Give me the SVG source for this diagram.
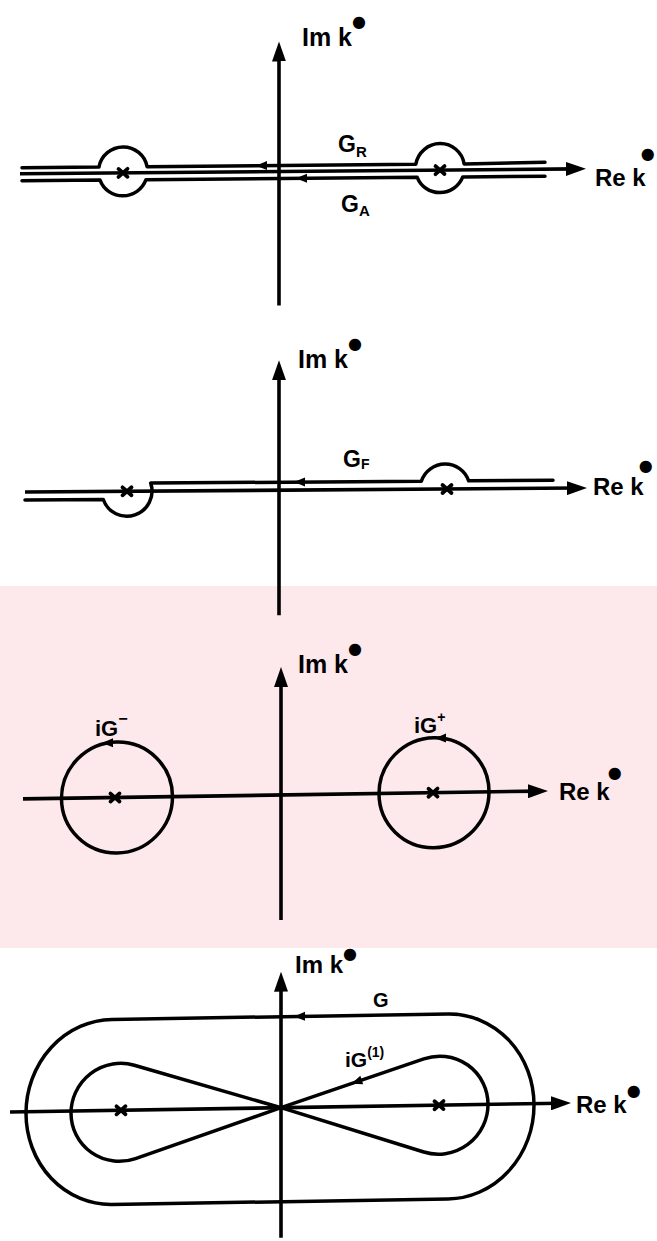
<svg xmlns="http://www.w3.org/2000/svg" width="657" height="1241" viewBox="0 0 657 1241">
<style>
.ln{fill:none;stroke:#000;stroke-width:3.5;stroke-linecap:round;stroke-linejoin:round}
.ax{fill:none;stroke:#000;stroke-width:3.6}
.pm{fill:none;stroke:#000;stroke-width:3.8;stroke-linecap:round}
.lbl{font-family:"Liberation Sans",Arial,sans-serif;font-weight:bold;fill:#000}
.dot{font-family:"DejaVu Sans",sans-serif;font-weight:normal}
.wm{fill:#fde8ec}
</style>
<defs>
<marker id="ah" viewBox="0 0 20 14" refX="10" refY="7" markerUnits="userSpaceOnUse" markerWidth="20" markerHeight="14" orient="auto">
<path d="M0,0 L20,7 L0,14 z" fill="#000"/>
</marker>
<path id="sa" d="M-6,0 L5,-4.5 L5,4.5 z" fill="#000"/>
<path id="px" d="M-4.5,-4 L4.5,4 M-4.5,4 L4.5,-4"/>
</defs>
<rect width="657" height="1241" fill="#fff"/>
<g id="watermark">
<rect class="wm" x="0" y="586" width="657" height="362"/>
</g>

<g id="panel1">
<g transform="translate(279,171.5) skewY(-0.5)">
<g id="p1-axes">
<path class="ax" d="M-259,0 L297,0" marker-end="url(#ah)"/>
<path class="ax" d="M0,134 L0,-120" marker-end="url(#ah)"/>
</g>
<g id="p1-contours">
<path class="ln" d="M-257,-6 L-180.08,-6 A24.5,24.5 0 0 1 -131.92,-6 L136.83,-6 A24.5,24.5 0 0 1 185.17,-6 L266,-7"/>
<path class="ln" d="M-257,7 L-178.98,7 A24.5,24.5 0 0 0 -133.02,7 L138.21,7 A24.5,24.5 0 0 0 183.79,7 L266,7"/>
<use href="#sa" transform="translate(-17,-6)"/>
<use href="#sa" transform="translate(23,7)"/>
</g>
<g id="p1-poles" class="pm">
<use href="#px" transform="translate(-156,0)"/>
<use href="#px" transform="translate(161,0)"/>
</g>
</g>
<text class="lbl" x="302" y="46" font-size="25">Im k<tspan class="dot" dx="0" dy="-19" font-size="16">●</tspan></text>
<text class="lbl" x="595" y="186" font-size="24">Re k<tspan class="dot" dx="-5" dy="-27" font-size="16">●</tspan></text>
<text class="lbl" x="338" y="152" font-size="23">G<tspan font-size="15" dy="5">R</tspan></text>
<text class="lbl" x="341" y="212" font-size="23">G<tspan font-size="15" dy="4">A</tspan></text>
</g>

<g id="panel2">
<g transform="translate(279,490.2) skewY(-0.41)">
<g id="p2-axes">
<path class="ax" d="M-254,0 L298,0" marker-end="url(#ah)"/>
<path class="ax" d="M0,125 L0,-120" marker-end="url(#ah)"/>
</g>
<g id="p2-contour">
<path class="ln" d="M-254,8 L-175.69,8 A25,25 0 1 0 -128.31,-8 L142.31,-8 A25,25 0 0 1 189.69,-8 L274,-8"/>
<use href="#sa" transform="translate(21,-8)"/>
</g>
<g id="p2-poles" class="pm">
<use href="#px" transform="translate(-152,0)"/>
<use href="#px" transform="translate(168,0)"/>
</g>
</g>
<text class="lbl" x="298" y="368" font-size="25">Im k<tspan class="dot" dx="0" dy="-19" font-size="16">●</tspan></text>
<text class="lbl" x="593" y="495" font-size="24">Re k<tspan class="dot" dx="-5" dy="-24" font-size="16">●</tspan></text>
<text class="lbl" x="343" y="467" font-size="23">G<tspan font-size="14" dy="2">F</tspan></text>
</g>

<g id="panel3">
<g transform="translate(281,795) skewY(-0.87)">
<g id="p3-axes">
<path class="ax" d="M-258,0 L257,0" marker-end="url(#ah)"/>
<path class="ax" d="M0,125 L0,-118" marker-end="url(#ah)"/>
</g>
<g id="p3-contours">
<circle class="ln" cx="-164" cy="0" r="55.5"/>
<circle class="ln" cx="153" cy="0" r="55"/>
<use href="#sa" transform="translate(-173,-54.8)"/>
<use href="#sa" transform="translate(160,-54.5)"/>
</g>
<g id="p3-poles" class="pm">
<use href="#px" transform="translate(-166,0)"/>
<use href="#px" transform="translate(152,0)"/>
</g>
</g>
<text class="lbl" x="298" y="673" font-size="25">Im k<tspan class="dot" dx="0" dy="-19" font-size="16">●</tspan></text>
<text class="lbl" x="559" y="800" font-size="24">Re k<tspan class="dot" dx="-2" dy="-22" font-size="16">●</tspan></text>
<text class="lbl" x="95" y="736" font-size="22">iG<tspan font-size="16" dy="-12">−</tspan></text>
<text class="lbl" x="414" y="733" font-size="22">iG<tspan font-size="14" dy="-11">+</tspan></text>
</g>

<g id="panel4">
<g transform="translate(281,1107.7) skewY(-0.92)">
<g id="p4-axes">
<path class="ax" d="M-271,0 L280,0" marker-end="url(#ah)"/>
<path class="ax" d="M0,130 L0,-126" marker-end="url(#ah)"/>
</g>
<g id="p4-contours">
<rect class="ln" x="-255" y="-91" width="508" height="185" rx="86" ry="92.5"/>
<path class="ln" d="M0,0 L-146.68,-44.86 A49,49 0 1 0 -145.51,48.5 L0,0 L142.81,-46.58 A49,49 0 1 1 142.81,46.58 Z"/>
<use href="#sa" transform="translate(19,-91)"/>
<use href="#sa" transform="translate(76,-24.8) rotate(-18.07)"/>
</g>
<g id="p4-poles" class="pm">
<use href="#px" transform="translate(-160,0)"/>
<use href="#px" transform="translate(158,0)"/>
</g>
</g>
<text class="lbl" x="295" y="973" font-size="24">Im k<tspan class="dot" dx="0" dy="-14" font-size="16">●</tspan></text>
<text class="lbl" x="576" y="1113" font-size="24">Re k<tspan class="dot" dx="0" dy="-17" font-size="16">●</tspan></text>
<text class="lbl" x="373" y="1007" font-size="20">G</text>
<text class="lbl" x="345" y="1067" font-size="21">iG<tspan font-size="14" dy="-10">(1)</tspan></text>
</g>
</svg>
